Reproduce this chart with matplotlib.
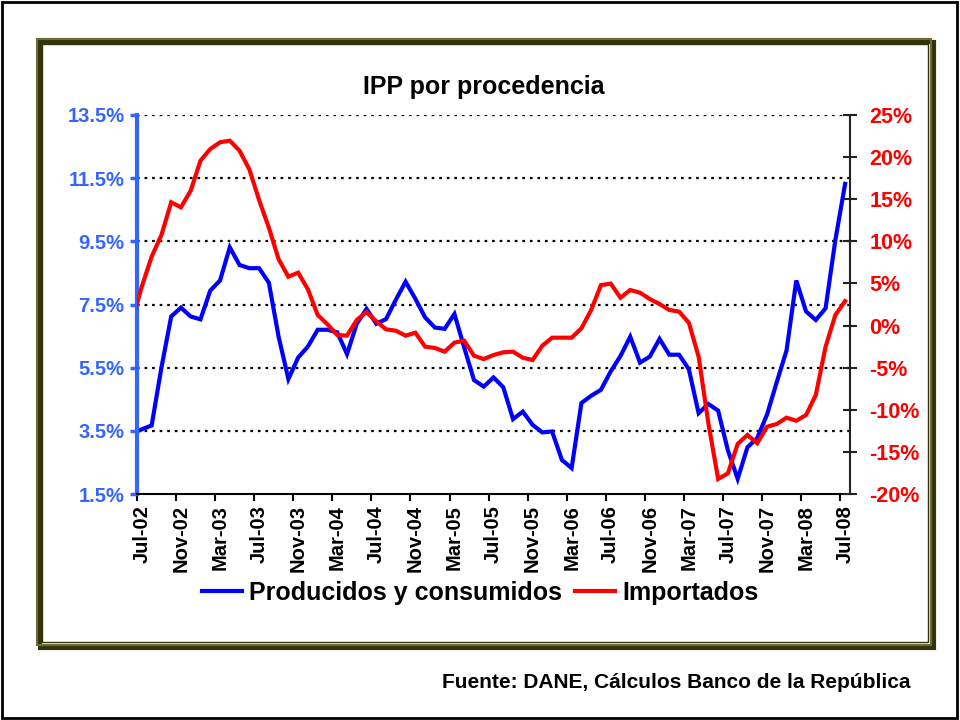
import numpy as np
import matplotlib
matplotlib.use("Agg")
import matplotlib.pyplot as plt
from matplotlib.patches import Rectangle
from matplotlib.ticker import FuncFormatter

plt.rcParams['font.family'] = ['Liberation Sans', 'DejaVu Sans']
plt.rcParams['font.weight'] = 'bold'

# monthly series, Jun-02 .. Jul-08 (first value is clipped by the axis)
producidos = [3.41, 3.55, 3.67, 5.5, 7.12, 7.40, 7.12, 7.03, 7.94, 8.26,
              9.31, 8.75, 8.65, 8.65, 8.19, 6.48, 5.14, 5.82, 6.17, 6.70,
              6.70, 6.62, 5.93, 6.89, 7.36, 6.89, 7.04, 7.65, 8.22, 7.68,
              7.09, 6.77, 6.73, 7.20, 6.14, 5.11, 4.90, 5.19, 4.88, 3.87,
              4.11, 3.69, 3.45, 3.48, 2.58, 2.32, 4.38, 4.61, 4.80, 5.38,
              5.87, 6.48, 5.66, 5.85, 6.41, 5.91, 5.91, 5.45, 4.06, 4.35,
              4.14, 2.88, 1.98, 2.98, 3.27, 4.01, 5.04, 6.04, 8.26, 7.28,
              7.01, 7.38, 9.54, 11.32]
importados = [0.5, 4.66, 8.18, 10.75, 14.63, 14.04, 16.02, 19.58, 20.96, 21.76,
              21.95, 20.76, 18.55, 14.91, 11.62, 7.87, 5.80, 6.28, 4.30, 1.25,
              0.15, -1.12, -1.20, 0.66, 1.60, 0.5, -0.45, -0.61, -1.20, -0.85,
              -2.51, -2.66, -3.10, -2.03, -1.80, -3.58, -3.98, -3.50, -3.18, -3.10,
              -3.82, -4.09, -2.39, -1.44, -1.44, -1.44, -0.33, 1.85, 4.80, 4.98,
              3.31, 4.22, 3.90, 3.15, 2.56, 1.85, 1.65, 0.34, -3.69, -11.60,
              -18.22, -17.55, -14.06, -12.99, -13.98, -12.01, -11.69, -10.94, -11.30, -10.62,
              -8.24, -2.51, 1.25, 2.9]
tick_labels = ["Jul-02", "Nov-02", "Mar-03", "Jul-03", "Nov-03", "Mar-04", "Jul-04",
               "Nov-04", "Mar-05", "Jul-05", "Nov-05", "Mar-06", "Jul-06", "Nov-06",
               "Mar-07", "Jul-07", "Nov-07", "Mar-08", "Jul-08"]
left_ticks = [1.5, 3.5, 5.5, 7.5, 9.5, 11.5, 13.5]
right_ticks = [-20, -15, -10, -5, 0, 5, 10, 15, 20, 25]

W, H = 960, 720
fig = plt.figure(figsize=(W / 100, H / 100), dpi=100)
fig.patch.set_facecolor('white')


def frac_rect(x0, y0, x1, y1, **kw):
    return Rectangle((x0 / W, 1 - y1 / H), (x1 - x0) / W, (y1 - y0) / H,
                     transform=fig.transFigure, fill=False, **kw)


# outer border and olive chart frame
fig.patches.append(frac_rect(2, 2, 957, 718, lw=2, edgecolor='black'))
fig.patches.append(frac_rect(40, 42, 934, 648, lw=3, edgecolor='#33330a'))
fig.patches.append(frac_rect(37, 39, 931, 645, lw=1.5, edgecolor='#6b6b3a'))
fig.patches.append(frac_rect(42, 44, 928, 642, lw=1, edgecolor='#33330a'))

ax = fig.add_axes([137 / W, 1 - 494 / H, (850 - 137) / W, (494 - 115) / H])
ax2 = ax.twinx()

x = np.arange(len(producidos)) - 1
blue = '#0000ff'
red = '#ff0000'
lbl_blue = '#3366ff'

l1, = ax.plot(x, producidos, color=blue, lw=3, solid_joinstyle='miter')
l2, = ax2.plot(x, importados, color=red, lw=3, solid_joinstyle='miter')

ax.set_xlim(-0.5, len(producidos) - 1.5)
ax.set_ylim(1.5, 13.5)
ax2.set_ylim(-20, 25)

# gridlines
for v in left_ticks[1:]:
    ax.axhline(v, color='black', lw=1.6, ls=(0, (1.2, 2.2)), zorder=0)

ax.set_yticks(left_ticks)
ax.yaxis.set_major_formatter(FuncFormatter(lambda v, p: "%.1f%%" % v))
ax.tick_params(axis='y', colors=lbl_blue, labelsize=14.5, length=5, width=2.5,
               direction='out', pad=4)
for t in ax.get_yticklabels():
    t.set_fontweight('bold')

ax2.set_yticks(right_ticks)
ax2.yaxis.set_major_formatter(FuncFormatter(lambda v, p: "%d%%" % v))
ax2.tick_params(axis='y', colors='#222222', labelcolor=red, labelsize=15.5,
                length=10, width=1.5, direction='inout', pad=9)
for t in ax2.get_yticklabels():
    t.set_fontweight('bold')

# category boundaries as ticks, labels at category centres
ax.set_xticks(np.arange(0, len(tick_labels)) * 4 - 0.5)
ax.set_xticklabels([])
ax.tick_params(axis='x', length=5, width=1.5, direction='out', color='black')
ax.set_xticks(np.arange(0, len(tick_labels)) * 4, minor=True)
ax.set_xticklabels(tick_labels, minor=True, rotation=90, fontsize=14.5,
                   fontweight='bold', va='top', ha='center')
ax.tick_params(axis='x', which='minor', length=0, pad=8)

for a in (ax, ax2):
    a.spines['top'].set_visible(False)
ax.spines['left'].set_color(lbl_blue)
ax.spines['left'].set_linewidth(3)
ax2.spines['left'].set_visible(False)
ax2.spines['bottom'].set_visible(False)
ax2.spines['right'].set_color('#222222')
ax2.spines['right'].set_linewidth(1.5)
ax.spines['bottom'].set_linewidth(1.5)
ax.spines['right'].set_visible(False)

fig.text(484 / W, 1 - 87 / H, "IPP por procedencia", ha='center', va='center',
         fontsize=18, fontweight='bold')

fig.legend([l1, l2], ["Producidos y consumidos", "Importados"], loc='center',
           bbox_to_anchor=(480 / W, 1 - 593 / H), ncol=2, frameon=False,
           prop={'size': 18, 'weight': 'bold'}, handlelength=1.6,
           handletextpad=0.3, columnspacing=0.5)

fig.text(910 / W, 1 - 683 / H, "Fuente: DANE, Cálculos Banco de la República",
         ha='right', va='center', fontsize=15, fontweight='bold')

fig.savefig("out.png", dpi=100)
